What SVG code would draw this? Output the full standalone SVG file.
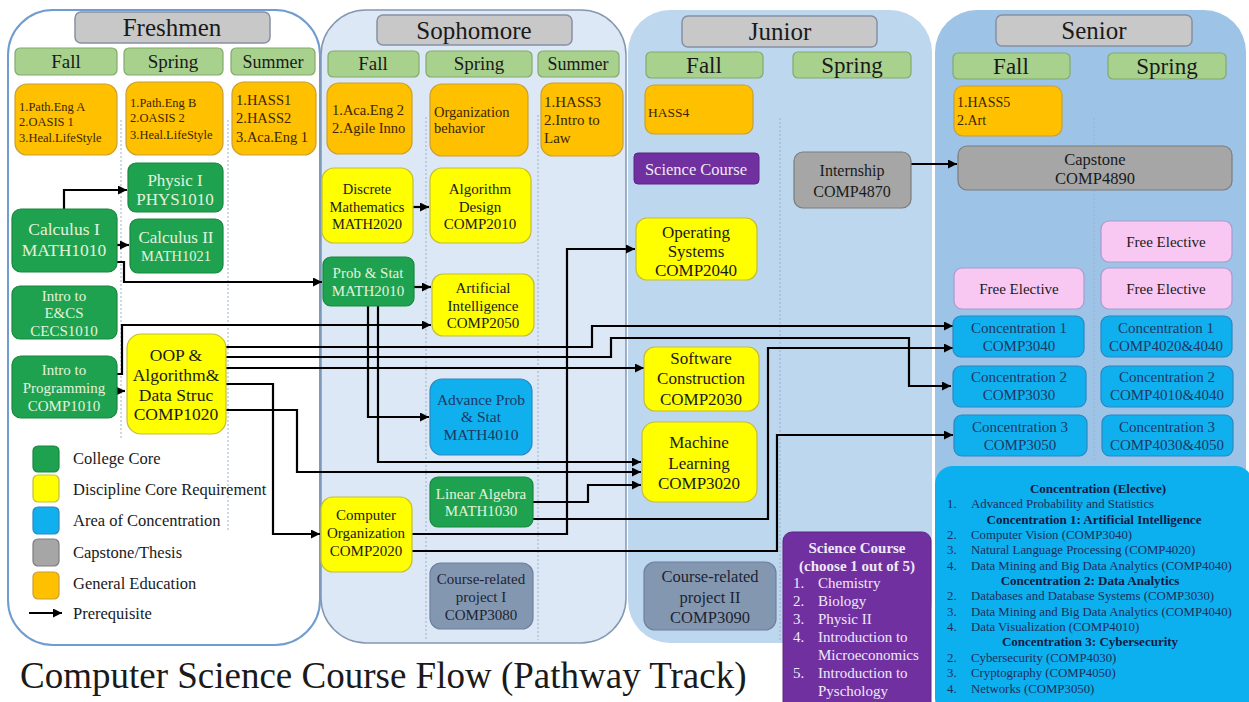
<svg xmlns="http://www.w3.org/2000/svg" width="1249" height="702" viewBox="0 0 1249 702">
  <style>
    text { font-family: "Liberation Serif", "Times New Roman", serif; fill: #1a1a1a; }
    .c { text-anchor: middle; }
    .hdr { fill: #c8c8c8; stroke: #8790a3; stroke-width: 1.5; }
    .hdr-t { font-size: 25px; }
    .sea { fill: #a9d18e; stroke: #82aa6a; stroke-width: 1.2; }
    .ge { fill: #ffc000; stroke: #c99f35; stroke-width: 1.2; }
    .ge-t { fill: #3a2600; }
    .cc { fill: #1ea250; stroke: #17873f; stroke-width: 1.2; }
    .cc-t { fill: #e4f2dc; }
    .dc { fill: #ffff00; stroke: #c2bd3a; stroke-width: 1.2; }
    .ac { fill: #10b0ee; stroke: #2c86c2; stroke-width: 1.2; }
    .ac-t { fill: #1f3864; }
    .cap { fill: #a6a6a6; stroke: #7c7c7c; stroke-width: 1.2; }
    .fe { fill: #f8c8f3; stroke: #a79bcf; stroke-width: 1.2; }
    .prj { fill: #8497b0; stroke: #6d80a0; stroke-width: 1.2; }
    .prj-t { fill: #1c2433; }
    .sci { fill: #7030a0; stroke: #5c2585; stroke-width: 1; }
    .sci-t { fill: #efe8f7; }
    .sep { stroke: #9db2cc; stroke-width: 1; stroke-dasharray: 2 2; fill: none; }
    .lst { font-size: 12.8px; fill: #1f2d5a; }
    .lsth { font-size: 13px; font-weight: bold; fill: #0f1b45; text-anchor: middle; }
  </style>
  <defs>
    <marker id="arr" viewBox="0 0 10 10" refX="10" refY="5" markerWidth="9" markerHeight="9" markerUnits="userSpaceOnUse" orient="auto">
      <path d="M0,0 L10,5 L0,10 z" fill="#000"/>
    </marker>
  </defs>

  <rect width="1249" height="702" fill="#ffffff"/>

  <!-- year panels -->
  <g id="panels">
    <rect x="8" y="10" width="312" height="635" rx="45" fill="#ffffff" stroke="#6f9dcf" stroke-width="2"/>
    <rect x="321" y="10" width="305" height="633" rx="45" fill="#dce8f5" stroke="#8497b0" stroke-width="1.5"/>
    <rect x="628" y="10" width="304" height="633" rx="42" fill="#bdd7ee"/>
    <rect x="935" y="10" width="311" height="700" rx="42" fill="#9dc3e6"/>
  </g>

  <!-- term separators -->
  <g id="separators">
    <line class="sep" x1="121" y1="120" x2="121" y2="440"/>
    <line class="sep" x1="228" y1="120" x2="228" y2="530"/>
    <line class="sep" x1="426" y1="117" x2="426" y2="640"/>
    <line class="sep" x1="538" y1="115" x2="538" y2="640"/>
    <line class="sep" x1="780" y1="118" x2="780" y2="640"/>
    <line class="sep" x1="1094" y1="118" x2="1094" y2="462"/>
  </g>

  <!-- headers and terms -->
  <g id="fresh-header"><rect class="hdr" x="75" y="12" width="195" height="31" rx="6"/><text class="c hdr-t" x="172" y="36">Freshmen</text></g>
  <g id="soph-header"><rect class="hdr" x="377" y="15" width="195" height="30" rx="6"/><text class="c hdr-t" x="474" y="39">Sophomore</text></g>
  <g id="junior-header"><rect class="hdr" x="682" y="16" width="195" height="31" rx="6"/><text class="c hdr-t" x="780" y="40">Junior</text></g>
  <g id="senior-header"><rect class="hdr" x="996" y="15" width="196" height="31" rx="6"/><text class="c hdr-t" x="1094" y="39">Senior</text></g>

  <g id="fresh-fall"><rect class="sea" x="15" y="48" width="102" height="27" rx="5"/><text class="c" x="66" y="68" font-size="19">Fall</text></g>
  <g id="fresh-spring"><rect class="sea" x="124" y="48" width="99" height="27" rx="5"/><text class="c" x="173" y="68" font-size="19">Spring</text></g>
  <g id="fresh-summer"><rect class="sea" x="231" y="48" width="84" height="27" rx="5"/><text class="c" x="273" y="68" font-size="18">Summer</text></g>
  <g id="soph-fall"><rect class="sea" x="328" y="51" width="91" height="26" rx="5"/><text class="c" x="373" y="70" font-size="19">Fall</text></g>
  <g id="soph-spring"><rect class="sea" x="426" y="51" width="106" height="26" rx="5"/><text class="c" x="479" y="70" font-size="19">Spring</text></g>
  <g id="soph-summer"><rect class="sea" x="538" y="51" width="81" height="26" rx="5"/><text class="c" x="578" y="70" font-size="18">Summer</text></g>
  <g id="junior-fall"><rect class="sea" x="646" y="52" width="117" height="26" rx="5"/><text class="c" x="704" y="73" font-size="23">Fall</text></g>
  <g id="junior-spring"><rect class="sea" x="793" y="52" width="118" height="26" rx="5"/><text class="c" x="852" y="73" font-size="23">Spring</text></g>
  <g id="senior-fall"><rect class="sea" x="953" y="53" width="117" height="26" rx="5"/><text class="c" x="1011" y="74" font-size="23">Fall</text></g>
  <g id="senior-spring"><rect class="sea" x="1108" y="53" width="118" height="26" rx="5"/><text class="c" x="1167" y="74" font-size="23">Spring</text></g>

  <!-- prerequisite connectors -->
  <g id="connectors" fill="none" stroke="#000" stroke-width="2.2" marker-end="url(#arr)">
    <path d="M64,209 V190 H127"/>
    <path d="M117,245 H129"/>
    <path d="M117,262 H124 V282 H322"/>
    <path d="M117,391 H125"/>
    <path d="M117,374 H122 V325 H431"/>
    <path d="M226,347 H592 V326 H953"/>
    <path d="M226,357 H611 V338 H909 V386 H951"/>
    <path d="M226,368 H644"/>
    <path d="M226,384 H273 V534 H320"/>
    <path d="M226,410 H297 V472 H641"/>
    <path d="M413,207 H429"/>
    <path d="M414,287 H431"/>
    <path d="M368,306 V417 H429"/>
    <path d="M378,306 V462 H641"/>
    <path d="M412,534 H567 V249 H635"/>
    <path d="M412,551 H777 V435 H953"/>
    <path d="M533,502 H588 V485 H641"/>
    <path d="M533,519 H768 V348 H953"/>
    <path d="M911,164 H957"/>
  </g>

  <!-- Freshmen courses -->
  <g id="fresh-ge-fall"><rect class="ge" x="15" y="84" width="102" height="71" rx="12"/>
    <text class="ge-t" font-size="12.5"><tspan x="19" y="111">1.Path.Eng A</tspan><tspan x="19" y="126">2.OASIS 1</tspan><tspan x="19" y="142">3.Heal.LifeStyle</tspan></text></g>
  <g id="fresh-ge-spring"><rect class="ge" x="126" y="82" width="97" height="73" rx="12"/>
    <text class="ge-t" font-size="12.5"><tspan x="130" y="107">1.Path.Eng B</tspan><tspan x="130" y="122">2.OASIS 2</tspan><tspan x="130" y="139">3.Heal.LifeStyle</tspan></text></g>
  <g id="fresh-ge-summer"><rect class="ge" x="232" y="82" width="84" height="73" rx="12"/>
    <text class="ge-t" font-size="14.5"><tspan x="236" y="105">1.HASS1</tspan><tspan x="236" y="123">2.HASS2</tspan><tspan x="236" y="142">3.Aca.Eng  1</tspan></text></g>

  <g id="phys1010"><rect class="cc" x="128" y="163" width="95" height="49" rx="8"/>
    <text class="c cc-t" font-size="17"><tspan x="175" y="186">Physic I</tspan><tspan x="175" y="205">PHYS1010</tspan></text></g>
  <g id="math1010"><rect class="cc" x="12" y="209" width="105" height="63" rx="9"/>
    <text class="c cc-t" font-size="17.5"><tspan x="64" y="235">Calculus I</tspan><tspan x="64" y="256">MATH1010</tspan></text></g>
  <g id="math1021"><rect class="cc" x="130" y="219" width="93" height="54" rx="8"/>
    <text class="c cc-t"><tspan x="176" y="243" font-size="17">Calculus II</tspan><tspan x="176" y="261" font-size="14.5">MATH1021</tspan></text></g>
  <g id="cecs1010"><rect class="cc" x="12" y="286" width="105" height="53" rx="8"/>
    <text class="c cc-t" font-size="15"><tspan x="64" y="301">Intro to</tspan><tspan x="64" y="318">E&amp;CS</tspan><tspan x="64" y="336">CECS1010</tspan></text></g>
  <g id="comp1010"><rect class="cc" x="12" y="356" width="105" height="62" rx="9"/>
    <text class="c cc-t" font-size="15"><tspan x="64" y="375">Intro to</tspan><tspan x="64" y="393">Programming</tspan><tspan x="64" y="411">COMP1010</tspan></text></g>
  <g id="comp1020"><rect class="dc" x="127" y="334" width="99" height="100" rx="14"/>
    <text class="c" font-size="17.5"><tspan x="176" y="361">OOP &amp;</tspan><tspan x="176" y="381">Algorithm&amp;</tspan><tspan x="176" y="401">Data Struc</tspan><tspan x="176" y="420">COMP1020</tspan></text></g>

  <!-- Sophomore courses -->
  <g id="soph-ge-fall"><rect class="ge" x="327" y="83" width="85" height="71" rx="12"/>
    <text class="ge-t" font-size="14.5"><tspan x="332" y="115">1.Aca.Eng  2</tspan><tspan x="332" y="133">2.Agile Inno</tspan></text></g>
  <g id="soph-ge-spring"><rect class="ge" x="430" y="84" width="98" height="72" rx="12"/>
    <text class="ge-t" font-size="14.5"><tspan x="434" y="117">Organization</tspan><tspan x="434" y="133">behavior</tspan></text></g>
  <g id="soph-ge-summer"><rect class="ge" x="541" y="83" width="82" height="73" rx="12"/>
    <text class="ge-t" font-size="15"><tspan x="544" y="107">1.HASS3</tspan><tspan x="544" y="125">2.Intro to</tspan><tspan x="544" y="143">Law</tspan></text></g>

  <g id="math2020"><rect class="dc" x="322" y="168" width="91" height="75" rx="12"/>
    <text class="c" font-size="14.5"><tspan x="367" y="194">Discrete</tspan><tspan x="367" y="212">Mathematics</tspan><tspan x="367" y="229">MATH2020</tspan></text></g>
  <g id="comp2010"><rect class="dc" x="430" y="168" width="101" height="75" rx="12"/>
    <text class="c" font-size="15"><tspan x="480" y="194">Algorithm</tspan><tspan x="480" y="212">Design</tspan><tspan x="480" y="229">COMP2010</tspan></text></g>
  <g id="math2010"><rect class="cc" x="323" y="257" width="91" height="49" rx="8"/>
    <text class="c cc-t" font-size="15"><tspan x="368" y="278">Prob &amp; Stat</tspan><tspan x="368" y="296">MATH2010</tspan></text></g>
  <g id="comp2050"><rect class="dc" x="432" y="274" width="102" height="62" rx="11"/>
    <text class="c" font-size="15"><tspan x="483" y="293">Artificial</tspan><tspan x="483" y="311">Intelligence</tspan><tspan x="483" y="328">COMP2050</tspan></text></g>
  <g id="math4010"><rect class="ac" x="430" y="379" width="102" height="76" rx="12"/>
    <text class="c ac-t" font-size="15.5"><tspan x="481" y="405">Advance  Prob</tspan><tspan x="481" y="422">&amp; Stat</tspan><tspan x="481" y="440">MATH4010</tspan></text></g>
  <g id="math1030"><rect class="cc" x="430" y="477" width="103" height="50" rx="8"/>
    <text class="c cc-t" font-size="15"><tspan x="481" y="499">Linear  Algebra</tspan><tspan x="481" y="516">MATH1030</tspan></text></g>
  <g id="comp2020"><rect class="dc" x="321" y="497" width="91" height="75" rx="12"/>
    <text class="c" font-size="15"><tspan x="366" y="520">Computer</tspan><tspan x="366" y="538">Organization</tspan><tspan x="366" y="556">COMP2020</tspan></text></g>
  <g id="comp3080"><rect class="prj" x="430" y="563" width="103" height="66" rx="11"/>
    <text class="c prj-t" font-size="15"><tspan x="481" y="584">Course-related</tspan><tspan x="481" y="602">project I</tspan><tspan x="481" y="620">COMP3080</tspan></text></g>

  <!-- Junior courses -->
  <g id="junior-ge-fall"><rect class="ge" x="645" y="85" width="108" height="49" rx="9"/>
    <text class="ge-t" x="648" y="117" font-size="13.5">HASS4</text></g>
  <g id="science-course"><rect class="sci" x="634" y="153" width="125" height="31" rx="4"/>
    <text class="c sci-t" x="696" y="175" font-size="16.5">Science Course</text></g>
  <g id="comp4870"><rect class="cap" x="794" y="152" width="117" height="56" rx="9"/>
    <text class="c" font-size="16"><tspan x="852" y="176">Internship</tspan><tspan x="852" y="197">COMP4870</tspan></text></g>
  <g id="comp2040"><rect class="dc" x="636" y="218" width="121" height="62" rx="11"/>
    <text class="c" font-size="17"><tspan x="696" y="238">Operating</tspan><tspan x="696" y="257">Systems</tspan><tspan x="696" y="276">COMP2040</tspan></text></g>
  <g id="comp2030"><rect class="dc" x="644" y="347" width="115" height="64" rx="11"/>
    <text class="c" font-size="17"><tspan x="701" y="364">Software</tspan><tspan x="701" y="384">Construction</tspan><tspan x="701" y="405">COMP2030</tspan></text></g>
  <g id="comp3020"><rect class="dc" x="642" y="422" width="115" height="80" rx="13"/>
    <text class="c" font-size="17"><tspan x="699" y="448">Machine</tspan><tspan x="699" y="469">Learning</tspan><tspan x="699" y="489">COMP3020</tspan></text></g>
  <g id="comp3090"><rect class="prj" x="644" y="562" width="132" height="68" rx="11"/>
    <text class="c prj-t" font-size="16.5"><tspan x="710" y="582">Course-related</tspan><tspan x="710" y="603">project II</tspan><tspan x="710" y="623">COMP3090</tspan></text></g>
  <g id="science-list"><rect class="sci" x="783" y="532" width="148" height="185" rx="9"/>
    <text class="c sci-t" font-size="15" font-weight="bold"><tspan x="857" y="553">Science Course</tspan><tspan x="857" y="571">(choose 1 out of 5)</tspan></text>
    <text class="sci-t" font-size="15">
      <tspan x="793" y="588">1.</tspan><tspan x="818" y="588">Chemistry</tspan>
      <tspan x="793" y="606">2.</tspan><tspan x="818" y="606">Biology</tspan>
      <tspan x="793" y="624">3.</tspan><tspan x="818" y="624">Physic II</tspan>
      <tspan x="793" y="642">4.</tspan><tspan x="818" y="642">Introduction to</tspan>
      <tspan x="818" y="660">Microeconomics</tspan>
      <tspan x="793" y="678">5.</tspan><tspan x="818" y="678">Introduction to</tspan>
      <tspan x="818" y="696">Pyschology</tspan>
    </text></g>

  <!-- Senior courses -->
  <g id="senior-ge-fall"><rect class="ge" x="954" y="86" width="108" height="50" rx="9"/>
    <text class="ge-t" font-size="14"><tspan x="957" y="107">1.HASS5</tspan><tspan x="957" y="125">2.Art</tspan></text></g>
  <g id="comp4890"><rect class="cap" x="958" y="146" width="274" height="44" rx="9"/>
    <text class="c" font-size="16.5"><tspan x="1095" y="165">Capstone</tspan><tspan x="1095" y="184">COMP4890</tspan></text></g>
  <g id="free-elective-1"><rect class="fe" x="1101" y="221" width="131" height="41" rx="8"/>
    <text class="c" x="1166" y="247" font-size="15">Free Elective</text></g>
  <g id="free-elective-2"><rect class="fe" x="954" y="268" width="130" height="41" rx="8"/>
    <text class="c" x="1019" y="294" font-size="15">Free Elective</text></g>
  <g id="free-elective-3"><rect class="fe" x="1101" y="268" width="131" height="41" rx="8"/>
    <text class="c" x="1166" y="294" font-size="15">Free Elective</text></g>
  <g id="comp3040"><rect class="ac" x="953" y="316" width="131" height="41" rx="8"/>
    <text class="c ac-t" font-size="15"><tspan x="1019" y="333">Concentration  1</tspan><tspan x="1019" y="351">COMP3040</tspan></text></g>
  <g id="comp4020-4040"><rect class="ac" x="1101" y="316" width="131" height="41" rx="8"/>
    <text class="c ac-t" font-size="15"><tspan x="1166" y="333">Concentration  1</tspan><tspan x="1166" y="351">COMP4020&amp;4040</tspan></text></g>
  <g id="comp3030"><rect class="ac" x="953" y="366" width="133" height="41" rx="8"/>
    <text class="c ac-t" font-size="15"><tspan x="1019" y="382">Concentration  2</tspan><tspan x="1019" y="400">COMP3030</tspan></text></g>
  <g id="comp4010-4040"><rect class="ac" x="1101" y="366" width="132" height="41" rx="8"/>
    <text class="c ac-t" font-size="15"><tspan x="1167" y="382">Concentration  2</tspan><tspan x="1167" y="400">COMP4010&amp;4040</tspan></text></g>
  <g id="comp3050"><rect class="ac" x="954" y="415" width="133" height="41" rx="8"/>
    <text class="c ac-t" font-size="15"><tspan x="1020" y="432">Concentration  3</tspan><tspan x="1020" y="450">COMP3050</tspan></text></g>
  <g id="comp4030-4050"><rect class="ac" x="1102" y="415" width="131" height="41" rx="8"/>
    <text class="c ac-t" font-size="15"><tspan x="1167" y="432">Concentration  3</tspan><tspan x="1167" y="450">COMP4030&amp;4050</tspan></text></g>

  <g id="concentration-list"><rect x="935" y="466" width="318" height="250" rx="18" fill="#0db0ef"/>
    <text class="lsth" x="1098" y="493">Concentration (Elective)</text>
    <text class="lst"><tspan x="947" y="508">1.</tspan><tspan x="971" y="508">Advanced Probability and Statistics</tspan></text>
    <text class="lsth" x="1094" y="524">Concentration 1: Artificial Intelligence</text>
    <text class="lst"><tspan x="947" y="539">2.</tspan><tspan x="971" y="539">Computer Vision (COMP3040)</tspan></text>
    <text class="lst"><tspan x="947" y="554">3.</tspan><tspan x="971" y="554">Natural Language Processing (COMP4020)</tspan></text>
    <text class="lst"><tspan x="947" y="570">4.</tspan><tspan x="971" y="570">Data Mining  and Big Data Analytics (COMP4040)</tspan></text>
    <text class="lsth" x="1090" y="585">Concentration 2: Data Analytics</text>
    <text class="lst"><tspan x="947" y="600">2.</tspan><tspan x="971" y="600">Databases and Database Systems (COMP3030)</tspan></text>
    <text class="lst"><tspan x="947" y="616">3.</tspan><tspan x="971" y="616">Data Mining  and Big Data Analytics (COMP4040)</tspan></text>
    <text class="lst"><tspan x="947" y="631">4.</tspan><tspan x="971" y="631">Data Visualization  (COMP4010)</tspan></text>
    <text class="lsth" x="1090" y="646">Concentration 3: Cybersecurity</text>
    <text class="lst"><tspan x="947" y="662">2.</tspan><tspan x="971" y="662">Cybersecurity (COMP4030)</tspan></text>
    <text class="lst"><tspan x="947" y="677">3.</tspan><tspan x="971" y="677">Cryptography (COMP4050)</tspan></text>
    <text class="lst"><tspan x="947" y="693">4.</tspan><tspan x="971" y="693">Networks (COMP3050)</tspan></text>
  </g>

  <!-- legend -->
  <g id="legend">
    <rect x="33" y="446" width="26" height="26" rx="5" class="cc"/>
    <rect x="33" y="475" width="26" height="27" rx="5" class="dc"/>
    <rect x="33" y="507" width="26" height="27" rx="5" class="ac"/>
    <rect x="33" y="539" width="26" height="27" rx="5" class="cap"/>
    <rect x="33" y="572" width="26" height="27" rx="5" class="ge"/>
    <line x1="29" y1="613" x2="62" y2="613" stroke="#000" stroke-width="2" marker-end="url(#arr)"/>
    <text font-size="16.5">
      <tspan x="73" y="464">College Core</tspan>
      <tspan x="73" y="495">Discipline  Core Requirement</tspan>
      <tspan x="73" y="526">Area of Concentration</tspan>
      <tspan x="73" y="558">Capstone/Thesis</tspan>
      <tspan x="73" y="589">General Education</tspan>
      <tspan x="73" y="619">Prerequisite</tspan>
    </text>
  </g>

  <text id="title" x="20" y="688" font-size="37">Computer Science Course Flow (Pathway Track)</text>
</svg>
